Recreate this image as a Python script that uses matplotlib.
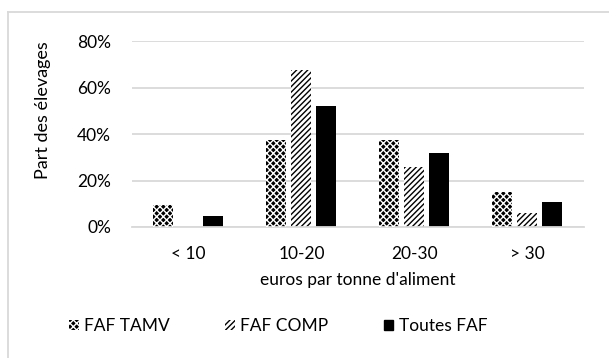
import matplotlib
matplotlib.use("Agg")
import matplotlib.pyplot as plt
import matplotlib.patches as mpatches
from matplotlib.lines import Line2D
import numpy as np

# donnees
categories = ["< 10", "10-20", "20-30", "> 30"]
series_names = ["FAF TAMV", "FAF COMP", "Toutes FAF"]
faf_tamv = [0.094, 0.376, 0.376, 0.151]
faf_comp = [0.0, 0.675, 0.258, 0.061]
toutes_faf = [0.047, 0.521, 0.318, 0.107]
yticks = [0, 0.2, 0.4, 0.6, 0.8]
ytick_labels = ["0%", "20%", "40%", "60%", "80%"]

plt.rcParams['font.family'] = ['Lato', 'DejaVu Sans']
plt.rcParams['hatch.linewidth'] = 1.0

fig = plt.figure(figsize=(6.09, 3.58), dpi=100)
ax = fig.add_axes([0.2167, 0.366, 0.742, 0.519])

x = np.arange(len(categories))
w = 0.177
step = 0.221

# FAF TAMV : fond noir, quadrillage blanc
ax.bar(x - step, faf_tamv, w, color="black", zorder=2)
ax.bar(x - step, faf_tamv, w, facecolor="none", edgecolor="white",
       hatch="xxxxx", linewidth=0, zorder=3)
# FAF COMP : hachures diagonales
ax.bar(x, faf_comp, w, facecolor="white", edgecolor="black",
       hatch="//////", linewidth=0, zorder=2)
# Toutes FAF : plein noir
ax.bar(x + step, toutes_faf, w, color="black", zorder=2)

ax.set_xlim(-0.5, len(categories) - 0.5)
ax.set_ylim(0, 0.8)
ax.set_yticks(yticks)
ax.set_yticklabels(ytick_labels)
ax.set_xticks(x)
ax.set_xticklabels(categories)
ax.tick_params(axis="y", length=0, pad=15, labelsize=12.5)
ax.tick_params(axis="x", length=0, pad=14, labelsize=12.5)
ax.grid(axis="y", color="#d9d9d9", linewidth=1.3, zorder=0)
ax.set_axisbelow(True)
for s in ["top", "right", "left"]:
    ax.spines[s].set_visible(False)
ax.spines["bottom"].set_color("#d9d9d9")
ax.spines["bottom"].set_linewidth(1.3)

ax.set_xlabel("euros par tonne d'aliment", fontsize=12.5, labelpad=7)
fig.text(43 / 609, 1 - 110 / 358, "Part des élevages", rotation=90,
         ha="center", va="center", fontsize=13)

# legende
h1 = mpatches.Patch(facecolor="black", edgecolor="white", hatch="xxxxx", linewidth=0)
h2 = mpatches.Patch(facecolor="white", edgecolor="black", hatch="//////", linewidth=0)
h3 = mpatches.Patch(facecolor="black", edgecolor="black")
fig.legend([h1, h2, h3], series_names, loc="center", ncol=3,
           bbox_to_anchor=(0.457, 1 - 326 / 358), frameon=False, fontsize=12.5,
           handlelength=0.55, handleheight=0.55, handletextpad=0.3,
           columnspacing=3.2)

# cadre de la capture
fig.add_artist(Line2D([8 / 609, 8 / 609], [0, 1 - 12 / 358],
                      transform=fig.transFigure, color="#d9d9d9", linewidth=1.3))
fig.add_artist(Line2D([8 / 609, 1], [1 - 12 / 358, 1 - 12 / 358],
                      transform=fig.transFigure, color="#d9d9d9", linewidth=1.3))

fig.savefig("out.png", dpi=100)
